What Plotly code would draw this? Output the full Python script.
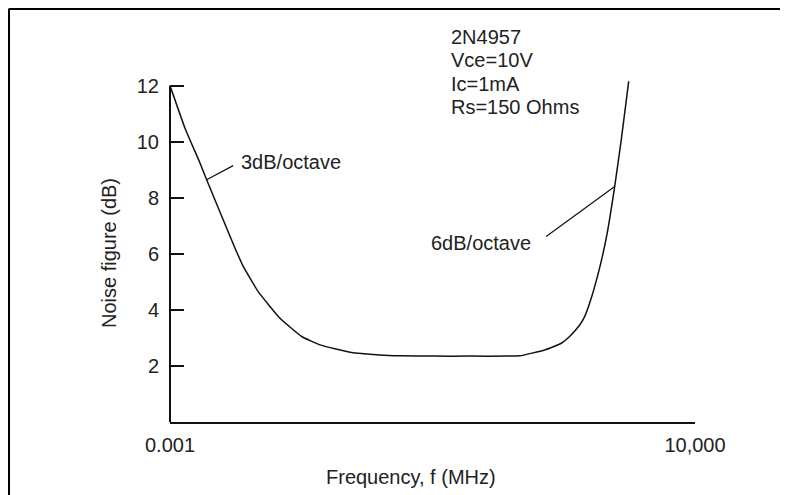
import math
import plotly.graph_objects as go

# Data
freq_mhz = [0.001, 0.00158, 0.00251, 0.00308, 0.00736, 0.00948, 0.0150, 0.0293, 0.0570,
            0.1, 0.251, 0.631, 1.17, 3.16, 10, 31.6, 46.0, 99.1, 165, 213, 290, 338,
            414, 541, 671, 849, 1040, 1306]
noise_db = [12.0, 10.49, 9.24, 8.64, 6.20, 5.55, 4.65, 3.70, 3.05,
            2.75, 2.49, 2.39, 2.36, 2.35, 2.35, 2.35, 2.36, 2.57, 2.81, 3.05, 3.46, 3.76,
            4.42, 5.55, 6.70, 8.40, 10.07, 12.15]
y_ticks = [2, 4, 6, 8, 10, 12]
x_tickvals = [0.001, 10000]
x_ticktext = ["0.001", "10,000"]
spec_lines = ["2N4957", "Vce=10V", "Ic=1mA", "Rs=150 Ohms"]
slope_notes = [("3dB/octave", 0.00308, 8.64), ("6dB/octave", 849, 8.40)]

FONT = "Liberation Sans, Arial, sans-serif"
TXT = "#222222"
FS = 20

fig = go.Figure()
fig.add_trace(go.Scatter(x=freq_mhz, y=noise_db, mode="lines",
                         line=dict(color="#111111", width=1.5, shape="spline", smoothing=0.4),
                         hoverinfo="skip", showlegend=False))

fig.update_layout(
    width=780, height=487,
    margin=dict(l=162, r=93, t=72, b=73),
    paper_bgcolor="white", plot_bgcolor="white",
    font=dict(family=FONT, size=FS, color=TXT),
    showlegend=False,
)
fig.update_xaxes(type="log", range=[-3, 4], showgrid=False, zeroline=False,
                 showline=True, linecolor="#111111", linewidth=2,
                 ticks="", tickvals=x_tickvals, ticktext=x_ticktext,
                 ticklabelstandoff=4, tickfont=dict(size=FS, color=TXT))
fig.update_yaxes(range=[0, 12.2], showgrid=False, zeroline=False, showline=False,
                 ticks="inside", ticklen=14, tickwidth=2, tickcolor="#111111",
                 tickvals=y_ticks, ticklabelstandoff=10,
                 tickfont=dict(size=FS, color=TXT))

# y-axis line from 0 to 12
fig.add_shape(type="line", xref="paper", yref="y", x0=0, x1=0, y0=0, y1=max(y_ticks),
              line=dict(color="#111111", width=2))

# outer frame (left and top edges)
fig.add_shape(type="line", xref="paper", yref="paper", x0=-0.3076, x1=-0.3076, y0=-0.4, y1=1.2076,
              line=dict(color="black", width=3))
fig.add_shape(type="line", xref="paper", yref="paper", x0=-0.3076, x1=1.3, y0=1.2076, y1=1.2076,
              line=dict(color="black", width=2))

# axis titles
fig.add_annotation(text="Noise figure (dB)", xref="paper", yref="paper", x=-0.1162, y=0.494,
                   xanchor="center", yanchor="middle",
                   textangle=-90, showarrow=False, font=dict(size=FS, color=TXT))
fig.add_annotation(text="Frequency, f (MHz)", xref="paper", yref="paper", x=0.459, y=-0.16,
                   xanchor="center", yanchor="middle",
                   showarrow=False, font=dict(size=FS, color=TXT))

# spec text block
for i, line in enumerate(spec_lines):
    fig.add_annotation(text=line, xref="paper", yref="paper", x=0.531, y=1.1266 - i * 0.0685,
                       xanchor="left", yanchor="middle", showarrow=False,
                       font=dict(size=FS, color=TXT))

# slope notes with leader lines
(t1, fx1, fy1), (t2, fx2, fy2) = slope_notes
lx1, lx2 = math.log10(fx1), math.log10(fx2)
fig.add_annotation(x=lx1, y=fy1, text="", showarrow=True, arrowhead=0, arrowwidth=1.2,
                   arrowcolor="#111111", ax=28, ay=-15)
fig.add_annotation(x=lx1, y=fy1, text=t1, showarrow=False, xanchor="left", yanchor="middle",
                   xshift=32, yshift=18, font=dict(size=FS, color=TXT))
fig.add_annotation(x=lx2, y=fy2, text="", showarrow=True, arrowhead=0, arrowwidth=1.2,
                   arrowcolor="#111111", ax=-70, ay=51)
fig.add_annotation(x=lx2, y=fy2, text=t2, showarrow=False, xanchor="right", yanchor="middle",
                   xshift=-82, yshift=-56, font=dict(size=FS, color=TXT))

fig.write_html("out.html")
